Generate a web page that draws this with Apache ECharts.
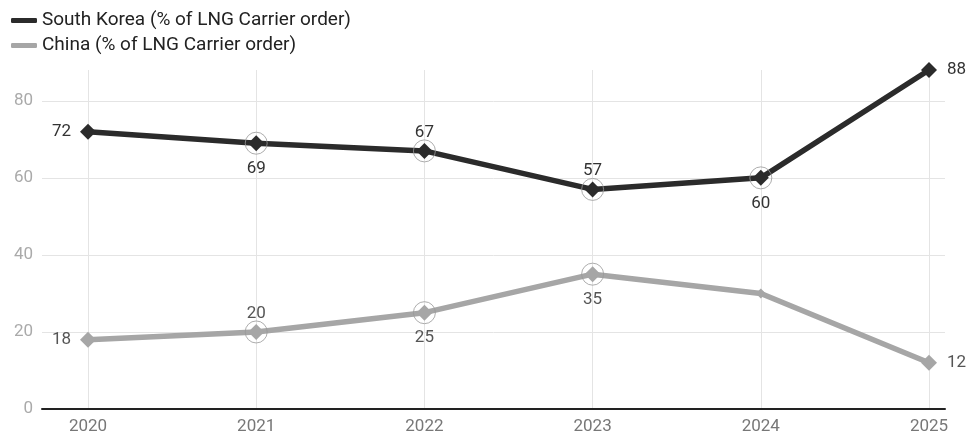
<!DOCTYPE html>
<html>
<head>
<meta charset="utf-8">
<script src="https://cdn.jsdelivr.net/npm/echarts@6/dist/echarts.min.js"></script>
<style>html,body{margin:0;padding:0;background:#fff}#c{width:966px;height:437px}</style>
</head>
<body>
<div id="c"></div>
<script>
const years = [2020, 2021, 2022, 2023, 2024, 2025];
const korea = [72, 69, 67, 57, 60, 88];
const china = [18, 20, 25, 35, 30, 12];
const yTicks = [0, 20, 40, 60, 80];
const koreaName = 'South Korea (% of LNG Carrier order)';
const chinaName = 'China (% of LNG Carrier order)';

const koreaLabelPos = ['left', 'bottom', 'top', 'top', 'bottom', 'right'];
const chinaLabelPos = ['left', 'top', 'bottom', 'bottom', null, 'right'];
const koreaRingIdx = [1, 2, 3, 4];
const chinaRingIdx = [1, 2, 3];

const font = 'Roboto';
const dist = { left: 9, right: 10, top: 2, bottom: 9 };
function mk(vals, pos) {
  return vals.map((v, i) => ({
    value: [years[i], v],
    symbolSize: pos[i] ? 16 : 10,
    label: pos[i] ? { show: true, position: pos[i], distance: dist[pos[i]] } : { show: false }
  }));
}
function rings(vals, idx) {
  return idx.map(i => [years[i], vals[i]]);
}
const chart = echarts.init(document.getElementById('c'));
chart.setOption({
  animation: false,
  textStyle: { fontFamily: font },
  legend: {
    orient: 'vertical', left: 6, top: 6, itemGap: 6,
    itemWidth: 26, itemHeight: 5, icon: 'roundRect',
    textStyle: { fontSize: 19, color: '#222', fontFamily: font },
    data: [koreaName, chinaName]
  },
  grid: { left: 42, right: 21, top: 70, bottom: 28 },
  xAxis: {
    type: 'value', min: 2019.7265, max: 2025.095,
    axisLine: { show: true, lineStyle: { color: '#222', width: 2 } },
    axisTick: { show: false, customValues: years },
    axisLabel: { customValues: years, formatter: v => String(v), color: '#777', fontSize: 17, margin: 9, fontFamily: font },
    splitLine: { show: true, lineStyle: { color: '#e4e4e4', width: 1 } }
  },
  yAxis: {
    type: 'value', min: 0, max: 88,
    axisLine: { show: false },
    axisTick: { show: false, customValues: yTicks },
    axisLabel: { customValues: yTicks, color: '#aaa', fontSize: 17, margin: 9, fontFamily: font },
    splitLine: { show: true, lineStyle: { color: '#e4e4e4', width: 1 } }
  },
  series: [
    {
      name: koreaName, type: 'line', data: mk(korea, koreaLabelPos),
      symbol: 'diamond', color: '#2b2b2b',
      lineStyle: { width: 5.5, color: '#2b2b2b' },
      itemStyle: { color: '#2b2b2b' },
      label: { color: '#333', fontSize: 17, fontFamily: font },
      z: 5
    },
    {
      name: chinaName, type: 'line', data: mk(china, chinaLabelPos),
      symbol: 'diamond', color: '#a6a6a6',
      lineStyle: { width: 5.5, color: '#a6a6a6' },
      itemStyle: { color: '#a6a6a6' },
      label: { color: '#555', fontSize: 17, fontFamily: font },
      z: 4
    },
    {
      type: 'scatter', data: rings(korea, koreaRingIdx).concat(rings(china, chinaRingIdx)),
      symbol: 'circle', symbolSize: 22, silent: true,
      itemStyle: { color: 'rgba(0,0,0,0)', borderColor: '#999', borderWidth: 1 },
      z: 6
    }
  ]
});
</script>
</body>
</html>
